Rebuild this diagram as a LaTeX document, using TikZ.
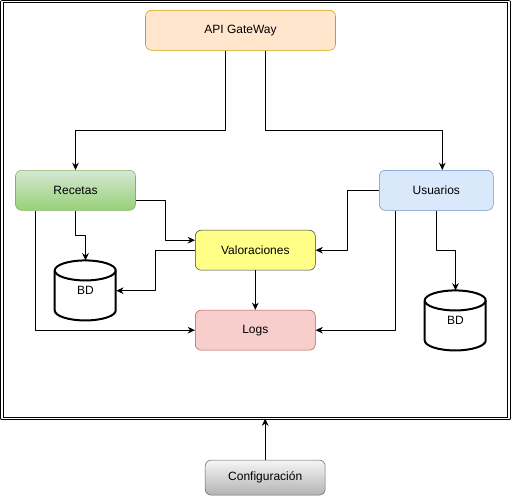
\documentclass[tikz,border=0pt]{standalone}
\usepackage{fontspec}
\setmainfont{Liberation Sans}
\usetikzlibrary{arrows.meta}
\definecolor{apifill}{HTML}{FFE6CC}\definecolor{apidraw}{HTML}{D79B00}
\definecolor{rectop}{HTML}{D5E8D4}\definecolor{recbot}{HTML}{97D077}\definecolor{recdraw}{HTML}{82B366}
\definecolor{usrfill}{HTML}{DAE8FC}\definecolor{usrdraw}{HTML}{6C8EBF}
\definecolor{valfill}{HTML}{FFFF88}\definecolor{valdraw}{HTML}{36393D}
\definecolor{logfill}{HTML}{F8CECC}\definecolor{logdraw}{HTML}{B85450}
\definecolor{cfgtop}{HTML}{F5F5F5}\definecolor{cfgbot}{HTML}{B3B3B3}\definecolor{cfgdraw}{HTML}{666666}
\begin{document}
\begin{tikzpicture}[x=0.75pt,y=-0.75pt,font=\fontsize{9}{11}\selectfont,line join=round,>={Stealth[length=5.5pt,width=5pt]},
box/.style={draw,rounded corners=4.5pt,minimum width=90pt,minimum height=30pt,inner sep=0pt},
bd/.style={minimum width=45.75pt,minimum height=45pt,inner sep=0pt},
link/.style={->,line width=0.75pt}]
\def\rx{30.5} \def\ry{10}
\useasboundingbox (0,0) rectangle (511,496);
\node[draw,double,double distance=1.1pt,line width=0.75pt,minimum width=380.4pt,minimum height=312.6pt,outer sep=0pt] (frame) at (255.4,210.1) {};
\node[box,fill=apifill,draw=apidraw,minimum width=142.5pt] (api) at (240.5,30.3) {API GateWay};
\node[box,top color=rectop,bottom color=recbot,draw=recdraw] (rec) at (75.5,190.3) {Recetas};
\node[box,fill=usrfill,draw=usrdraw,minimum width=85.5pt] (usr) at (436.3,190.3) {Usuarios};
\node[box,fill=valfill,draw=valdraw] (val) at (255.3,250.2) {Valoraciones};
\node[box,fill=logfill,draw=logdraw] (logs) at (255.3,330.2) {Logs};
\node[box,top color=cfgtop,bottom color=cfgbot,draw=cfgdraw,minimum height=26.25pt] (cfg) at (265.2,477.6) {Configuración};
\node[bd] (bdl) at (85.5,290.7) {BD};
\node[bd] (bdr) at (455.5,320.7) {BD};
\foreach \n in {bdl,bdr}{
\draw[line width=1.5pt] (\n.north west) ++(0,\ry) -- ++(0,40) arc[start angle=180,end angle=0,x radius=\rx,y radius=\ry] -- ++(0,-40) arc[start angle=0,end angle=-180,x radius=\rx,y radius=\ry] -- cycle;
\draw[line width=1.5pt] (\n.north west) ++(0,\ry) arc[start angle=180,end angle=0,x radius=\rx,y radius=\ry];
}
\draw[link] ([xshift=-11pt]api.south) -- ++(0,79.7) -| (rec.north);
\draw[link] ([xshift=18.6pt]api.south) -- ++(0,79.7) -| ([xshift=4.5pt]usr.north);
\draw[link] ([yshift=-7.5pt]rec.east) -| ++(30,0) |- ([yshift=7.5pt]val.west);
\draw[link] (rec.south) -- ++(0,25) -| (bdl.north);
\draw[link] ([xshift=15pt]rec.south west) |- (logs.west);
\draw[link] (val.west) -- ++(-39.5,0) |- (bdl.east);
\draw[link] (val.south) -- (logs.north);
\draw[link] (usr.west) -- ++(-32,0) |- (val.east);
\draw[link] ([xshift=12pt]usr.south west) |- (logs.east);
\draw[link] (usr.south) -- ++(0,39.7) -| (bdr.north);
\draw[link] (cfg.north) -- (cfg.north |- frame.south);
\end{tikzpicture}
\end{document}
